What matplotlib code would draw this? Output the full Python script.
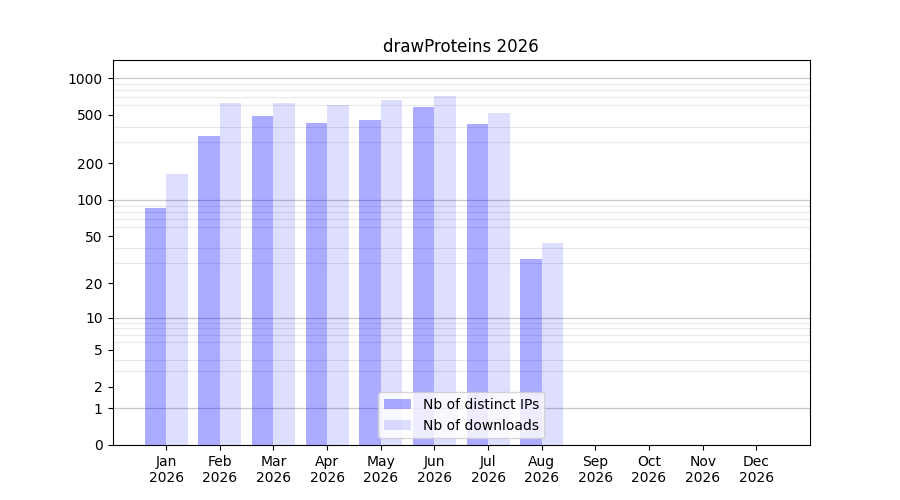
import numpy as np
import matplotlib
matplotlib.use("Agg")
import matplotlib.pyplot as plt
from matplotlib.ticker import FixedLocator, FixedFormatter

months = ["Jan", "Feb", "Mar", "Apr", "May", "Jun", "Jul", "Aug", "Sep", "Oct", "Nov", "Dec"]
year = "2026"
distinct_ips = [86, 335, 489, 428, 453, 580, 420, 32, 0, 0, 0, 0]
downloads = [163, 625, 625, 602, 661, 714, 518, 44, 0, 0, 0, 0]

fwd = lambda v: np.log10(1 + np.asarray(v, dtype=float))
inv = lambda v: 10 ** np.asarray(v, dtype=float) - 1

fig, ax = plt.subplots(figsize=(9, 5), dpi=100)
x = np.arange(1, len(months) + 1)
width = 0.4

ax.bar(x - width / 2, distinct_ips, width, color="blue", alpha=0.33, label="Nb of distinct IPs", zorder=2)
ax.bar(x + width / 2, downloads, width, color="blue", alpha=0.13, label="Nb of downloads", zorder=2)

ax.set_yscale("function", functions=(fwd, inv))
ax.set_ylim(0, 1410)
ax.set_xlim(0, 13)

major = [0, 1, 2, 5, 10, 20, 50, 100, 200, 500, 1000]
ax.yaxis.set_major_locator(FixedLocator(major))
ax.yaxis.set_major_formatter(FixedFormatter([str(v) for v in major]))
minor = [m * 10 ** k for k in range(0, 4) for m in range(1, 10) if m * 10 ** k <= 1400]
ax.yaxis.set_minor_locator(FixedLocator(minor))
ax.tick_params(axis="y", which="minor", length=0)
ax.grid(axis="y", which="minor", color="#e8e8e8", linewidth=0.8, zorder=0)
for v in [1, 10, 100, 1000]:
    ax.axhline(v, color="#c8c8c8", linewidth=0.9, zorder=1)

ax.set_xticks(x)
ax.set_xticklabels([f"{m}\n{year}" for m in months])
ax.set_title("drawProteins 2026")
ax.legend(loc="lower center")

fig.savefig("out.png", dpi=100)
